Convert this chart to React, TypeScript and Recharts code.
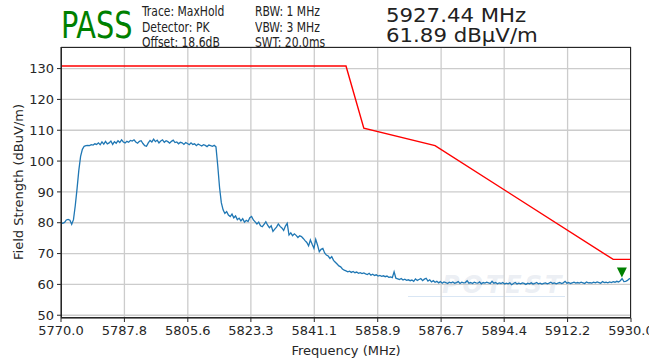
import React from "react"
import { LineChart, Line, XAxis, YAxis, CartesianGrid, ReferenceDot } from "recharts"

// frequency axis (MHz) and trace sampled every 0.5 MHz
const freqStart = 5770
const freqStep = 0.5
const traceLevels = [
  80.0, 79.8, 80.1, 80.9, 81.1, 80.8, 79.5, 81.0, 85.5, 91.0,
  97.0, 101.5, 103.8, 104.8, 105.0, 105.1, 105.0, 105.3, 105.2, 105.6,
  105.4, 105.9, 105.3, 106.2, 105.5, 106.4, 105.6, 105.9, 106.5, 105.4,
  106.3, 105.8, 106.6, 106.0, 106.9, 106.2, 105.9, 106.4, 106.1, 106.7,
  106.5, 106.9, 106.2, 105.8, 106.4, 106.6, 105.7, 105.0, 104.8, 105.9,
  106.7, 106.2, 107.1, 106.3, 106.8, 105.9, 106.5, 106.9, 106.1, 106.6,
  106.3, 105.8, 106.4, 106.8, 106.0, 106.2, 105.6, 106.1, 105.9, 105.4,
  106.0, 105.7, 105.3, 105.9, 105.4, 105.6, 105.0, 105.5, 105.2, 104.9,
  105.3, 105.1, 104.7, 105.2, 105.0, 104.8, 105.1, 104.6, 98.5, 91.5,
  86.5, 84.2, 83.0, 83.6, 82.5, 82.0, 82.8, 81.6, 82.2, 81.0,
  81.5, 80.6, 81.3, 80.2, 80.8, 80.4, 81.6, 82.0, 80.9, 80.3,
  79.6, 80.2, 79.0, 78.7, 79.5, 80.3, 79.2, 78.4, 79.0, 77.2,
  77.9, 78.6, 79.6, 78.8, 78.3, 77.5, 78.9, 79.8, 76.0, 76.7,
  75.8, 76.4, 75.9, 75.2, 75.8, 75.5, 74.9, 74.2, 73.6, 72.5,
  74.4, 73.0, 71.7, 74.6, 72.8, 70.6, 71.4, 71.7, 70.2, 69.5,
  69.2, 68.4, 69.0, 67.8, 67.2, 66.6, 66.0, 65.7, 65.0, 64.6,
  64.4, 64.1, 64.3, 63.9, 64.2, 63.8, 64.0, 63.6, 63.8, 63.5,
  63.7, 63.4, 63.2, 63.6, 63.0, 63.3, 62.9, 63.1, 62.7, 62.9,
  62.6, 62.8, 62.5, 62.7, 62.3, 62.4, 62.2, 64.1, 62.0, 61.8,
  61.6, 61.9, 61.4, 61.7, 61.3, 61.5, 61.2, 61.4, 61.0, 61.8,
  61.3, 61.6, 61.9, 61.2, 61.7, 62.0, 61.1, 61.5, 60.8, 61.2,
  60.7, 61.0, 60.5, 60.9, 60.4, 60.8, 60.6, 60.3, 60.7, 60.5,
  60.8, 60.4, 60.6, 60.9, 60.3, 60.7, 60.5, 60.6, 61.2, 60.4,
  60.6, 60.3, 60.7, 60.5, 60.4, 60.8, 60.2, 60.6, 60.4, 60.7,
  60.5, 60.3, 61.0, 60.4, 60.6, 60.2, 60.5, 60.3, 60.6, 60.1,
  60.4, 60.2, 60.5, 59.9, 60.3, 60.6, 60.1, 60.4, 60.2, 60.5,
  60.3, 60.0, 60.4, 60.2, 60.5, 60.1, 60.3, 60.6, 60.2, 60.4,
  60.1, 60.3, 60.5, 60.2, 60.4, 60.7, 60.3, 60.5, 60.2, 60.4,
  60.6, 60.3, 60.5, 61.0, 60.4, 60.6, 60.3, 60.5, 60.7, 60.4,
  60.6, 60.4, 60.7, 60.5, 60.3, 60.8, 60.5, 60.6, 60.4, 60.7,
  60.5, 60.8, 60.6, 60.4, 60.9, 60.6, 60.7, 60.5, 60.8, 60.6,
  60.9, 60.7, 61.0, 60.8, 61.2, 61.9, 60.9, 61.0, 61.3, 61.8,
  62.0,
]

// limit line corners
const limitFreqs = [5770, 5850, 5855, 5875, 5925, 5930]
const limitLevels = [130.85, 130.85, 110.7, 105.0, 68.1, 68.1]

const xTicks = [5770.0, 5787.8, 5805.6, 5823.3, 5841.1, 5858.9, 5876.7, 5894.4, 5912.2, 5930.0]
const yTicks = [50, 60, 70, 80, 90, 100, 110, 120, 130]

const markerFreq = 5927.44
const markerLevel = 61.89

const verdict = "PASS"
const infoCol1 = ["Trace: MaxHold", "Detector: PK", "Offset: 18.6dB"]
const infoCol2 = ["RBW: 1 MHz", "VBW: 3 MHz", "SWT: 20.0ms"]
const markerLines = ["5927.44 MHz", "61.89 dBµV/m"]
const watermark = "POTEST"

const traceData = traceLevels.map((v, i) => ({ f: freqStart + i * freqStep, v }))
const limitData = limitFreqs.map((f, i) => ({ f, v: limitLevels[i] }))

const font = "'DejaVu Sans', sans-serif"

const Triangle = (props: any) => {
  const { cx, cy } = props
  return <path d={`M${cx - 5},${cy - 11} L${cx + 5},${cy - 11} L${cx},${cy - 1} Z`} fill="#008000" />
}

export default function App() {
  const tickStyle = { fontFamily: font, fontSize: 13, fill: "#262626" }
  return (
    <div style={{ position: "absolute", left: 0, top: 0, width: 649, height: 360, background: "#fff", fontFamily: font }}>
      {/* faint watermark behind the plot */}
      <div style={{ position: "absolute", left: 442, top: 271, fontSize: 24, fontWeight: "bold", fontStyle: "italic", letterSpacing: 3, color: "rgba(205,214,228,0.4)" }}>{watermark}</div>
      <div style={{ position: "absolute", left: 408, top: 296, width: 157, height: 1, background: "rgba(170,200,230,0.45)" }} />
      <div style={{ position: "absolute", left: 0, top: 0 }}>
        <LineChart width={649} height={360} data={traceData} margin={{ top: 47, right: 18, bottom: 12, left: 21 }}>
          <CartesianGrid stroke="#cccccc" strokeWidth={1.3} vertical horizontal />
          <XAxis
            dataKey="f"
            type="number"
            domain={[5770, 5930]}
            ticks={xTicks}
            interval={0}
            tickFormatter={(t: number) => t.toFixed(1)}
            tick={tickStyle}
            tickSize={4}
            tickMargin={4}
            height={30}
            stroke="#262626"
            allowDataOverflow
          />
          <YAxis
            type="number"
            domain={[49.1, 137]}
            ticks={yTicks}
            interval={0}
            tick={tickStyle}
            tickSize={4}
            tickMargin={3}
            width={40}
            stroke="#262626"
            allowDataOverflow
          />
          <Line data={limitData} dataKey="v" stroke="#ff0000" strokeWidth={1.4} dot={false} isAnimationActive={false} />
          <Line data={traceData} dataKey="v" stroke="#1f77b4" strokeWidth={1.3} dot={false} isAnimationActive={false} />
          <ReferenceDot x={markerFreq} y={markerLevel} r={5} shape={Triangle} />
        </LineChart>
      </div>
      {/* frame */}
      <div style={{ position: "absolute", left: 61, top: 47, width: 570, height: 271, border: "1px solid #262626", boxSizing: "border-box", pointerEvents: "none" }} />
      {/* header */}
      <div style={{ position: "absolute", left: 61, top: 4, fontSize: 32, color: "#008000", lineHeight: "36px", fontStretch: "condensed", transform: "scaleY(1.16)", transformOrigin: "0 0" }}>{verdict}</div>
      <div style={{ position: "absolute", left: 142, top: 4, fontSize: 12, lineHeight: "14px", color: "#222", fontStretch: "condensed", transform: "scaleY(1.1)", transformOrigin: "0 0" }}>
        {infoCol1.map((t) => <div key={t}>{t}</div>)}
      </div>
      <div style={{ position: "absolute", left: 255, top: 4, fontSize: 12, lineHeight: "14px", color: "#222", fontStretch: "condensed", transform: "scaleY(1.1)", transformOrigin: "0 0" }}>
        {infoCol2.map((t) => <div key={t}>{t}</div>)}
      </div>
      {markerLines.map((t, i) => (
        <div key={t} style={{ position: "absolute", left: 386, top: 6 + i * 20, fontSize: 19, lineHeight: "19px", color: "#222", whiteSpace: "nowrap", transform: "scaleX(1.12)", transformOrigin: "0 0" }}>{t}</div>
      ))}
      {/* axis titles */}
      <div style={{ position: "absolute", left: 346, top: 343, transform: "translateX(-50%)", fontSize: 13, color: "#262626", whiteSpace: "nowrap" }}>Frequency (MHz)</div>
      <div style={{ position: "absolute", left: 18, top: 182, transform: "translate(-50%, -50%) rotate(-90deg)", fontSize: 13, color: "#262626", whiteSpace: "nowrap" }}>Field Strength (dBuV/m)</div>
    </div>
  )
}
